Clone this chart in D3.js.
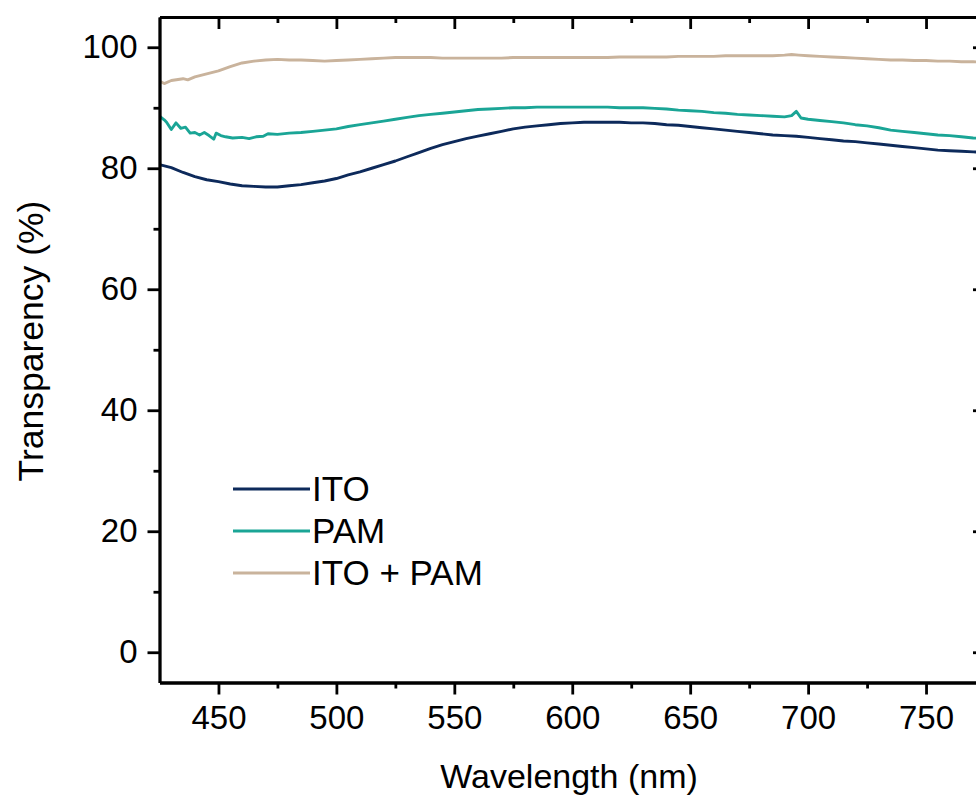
<!DOCTYPE html>
<html>
<head>
<meta charset="utf-8">
<script src="https://cdn.jsdelivr.net/npm/d3@7"></script>
<style>
  html, body { margin: 0; padding: 0; background: #fff; }
  svg { display: block; font-family: "Liberation Sans", Arial, sans-serif; }
</style>
</head>
<body>
<svg id="chart" width="976" height="795"></svg>
<script>
// Transmission spectra, wavelength in nm
const wavelengthITO = [425,430,435,440,445,450,455,460,465,470,475,480,485,490,495,500,505,510,515,520,525,530,535,540,545,550,555,560,565,570,575,580,585,590,595,600,605,610,615,620,625,630,635,640,645,650,655,660,665,670,675,680,685,690,695,700,705,710,715,720,725,730,735,740,745,750,755,760,765,770,775];
const transITO = [80.6,80.1,79.3,78.6,78.1,77.8,77.4,77.1,77.0,76.9,76.9,77.1,77.3,77.6,77.9,78.3,78.9,79.4,80.0,80.6,81.2,81.9,82.6,83.3,83.9,84.4,84.9,85.3,85.7,86.1,86.5,86.8,87.0,87.2,87.4,87.5,87.6,87.6,87.6,87.6,87.5,87.5,87.4,87.2,87.1,86.9,86.7,86.5,86.3,86.1,85.9,85.7,85.5,85.4,85.3,85.1,84.9,84.7,84.5,84.4,84.2,84.0,83.8,83.6,83.4,83.2,83.0,82.9,82.8,82.7,82.6];

const wavelengthPAM = [425,427,428,430,432,434,436,438,440,442,444,446,448,449,451,453,456,460,463,466,469,471,475,480,485,490,495,500,505,510,515,520,525,530,535,540,545,550,555,560,565,570,575,580,585,590,595,600,605,610,615,620,625,630,635,640,645,650,655,660,665,670,675,680,685,690,693,695,697,700,705,710,715,720,725,730,735,740,745,750,755,760,765,770,775];
const transPAM = [88.6,88.0,87.6,86.4,87.5,86.6,86.8,85.8,85.9,85.5,85.9,85.4,84.8,85.8,85.4,85.2,85.0,85.1,84.9,85.2,85.3,85.7,85.6,85.8,85.9,86.1,86.3,86.5,86.9,87.2,87.5,87.8,88.1,88.4,88.7,88.9,89.1,89.3,89.5,89.7,89.8,89.9,90.0,90.0,90.1,90.1,90.1,90.1,90.1,90.1,90.1,90.0,90.0,90.0,89.9,89.8,89.6,89.5,89.4,89.2,89.1,88.9,88.8,88.7,88.6,88.5,88.7,89.4,88.3,88.1,87.9,87.7,87.5,87.2,87.0,86.7,86.3,86.1,85.9,85.7,85.5,85.4,85.2,85.0,84.9];

const wavelengthBoth = [425,427,430,435,437,440,445,450,455,460,465,470,475,480,485,490,495,500,505,510,515,520,525,530,535,540,545,550,555,560,565,570,575,580,585,590,595,600,605,610,615,620,625,630,635,640,645,650,655,660,665,670,675,680,685,690,693,696,700,705,710,715,720,725,730,735,740,745,750,755,760,765,770,775];
const transBoth = [94.4,94.0,94.5,94.8,94.6,95.1,95.6,96.1,96.8,97.4,97.7,97.9,98.0,97.9,97.9,97.8,97.7,97.8,97.9,98.0,98.1,98.2,98.3,98.3,98.3,98.3,98.2,98.2,98.2,98.2,98.2,98.2,98.3,98.3,98.3,98.3,98.3,98.3,98.3,98.3,98.3,98.4,98.4,98.4,98.4,98.4,98.5,98.5,98.5,98.5,98.6,98.6,98.6,98.6,98.6,98.7,98.8,98.7,98.6,98.5,98.4,98.3,98.2,98.1,98.0,97.9,97.9,97.8,97.8,97.7,97.7,97.6,97.6,97.5];

const seriesNames = ["ITO", "PAM", "ITO + PAM"];
const seriesColors = ["#0d2a5b", "#1aa596", "#c9b39c"];

const xMajorTicks = [450,500,550,600,650,700,750];
const xMinorTicks = [475,525,575,625,675,725,775];
const yMajorTicks = [0,20,40,60,80,100];
const yMinorTicks = [10,30,50,70,90];

const xTitle = "Wavelength (nm)";
const yTitle = "Transparency (%)";

const series = [
  { name: seriesNames[0], color: seriesColors[0], x: wavelengthITO, y: transITO },
  { name: seriesNames[1], color: seriesColors[1], x: wavelengthPAM, y: transPAM },
  { name: seriesNames[2], color: seriesColors[2], x: wavelengthBoth, y: transBoth }
];

const svg = d3.select("#chart");
const plotLeft = 159.5, plotRight = 985, plotTop = 17, plotBottom = 682.5;

const x = d3.scaleLinear().domain([425, 775]).range([plotLeft, plotRight]);
const y = d3.scaleLinear().domain([-5, 105]).range([plotBottom, plotTop]);

svg.append("defs").append("clipPath").attr("id", "plotClip")
  .append("rect").attr("x", plotLeft).attr("y", plotTop)
  .attr("width", plotRight - plotLeft).attr("height", plotBottom - plotTop);

const line = d3.line().x(d => x(d[0])).y(d => y(d[1]));

const plot = svg.append("g").attr("clip-path", "url(#plotClip)");
series.forEach(s => {
  plot.append("path")
    .datum(s.x.map((w, i) => [w, s.y[i]]))
    .attr("fill", "none")
    .attr("stroke", s.color)
    .attr("stroke-width", 2.9)
    .attr("stroke-linejoin", "round")
    .attr("d", line);
});

const fontTick = 33;
const strokeW = 2.8;

function styleAxis(g) {
  g.selectAll("path, line").attr("stroke", "#000").attr("stroke-width", strokeW);
  g.selectAll("text").attr("fill", "#000").attr("font-size", fontTick)
    .attr("font-family", "Liberation Sans, Arial, sans-serif");
}

// bottom axis
svg.append("g").attr("transform", `translate(0,${plotBottom})`)
  .call(d3.axisBottom(x).tickValues(xMajorTicks).tickSize(12).tickSizeOuter(0).tickPadding(11).tickFormat(d3.format("d")))
  .call(styleAxis);
svg.append("g").attr("transform", `translate(0,${plotBottom})`)
  .call(d3.axisBottom(x).tickValues(xMinorTicks).tickSize(6).tickSizeOuter(0).tickFormat(""))
  .call(styleAxis);
// top axis, ticks inward
svg.append("g").attr("transform", `translate(0,${plotTop})`)
  .call(d3.axisTop(x).tickValues(xMajorTicks).tickSize(-12).tickSizeOuter(0).tickFormat(""))
  .call(styleAxis);
svg.append("g").attr("transform", `translate(0,${plotTop})`)
  .call(d3.axisTop(x).tickValues(xMinorTicks).tickSize(-6).tickSizeOuter(0).tickFormat(""))
  .call(styleAxis);
// left axis
svg.append("g").attr("transform", `translate(${plotLeft},0)`)
  .call(d3.axisLeft(y).tickValues(yMajorTicks).tickSize(12).tickSizeOuter(0).tickPadding(10).tickFormat(d3.format("d")))
  .call(styleAxis);
svg.append("g").attr("transform", `translate(${plotLeft},0)`)
  .call(d3.axisLeft(y).tickValues(yMinorTicks).tickSize(6).tickSizeOuter(0).tickFormat(""))
  .call(styleAxis);
// right axis, ticks inward
svg.append("g").attr("transform", `translate(${plotRight},0)`)
  .call(d3.axisRight(y).tickValues(yMajorTicks).tickSize(-12).tickSizeOuter(0).tickFormat(""))
  .call(styleAxis);
svg.append("g").attr("transform", `translate(${plotRight},0)`)
  .call(d3.axisRight(y).tickValues(yMinorTicks).tickSize(-6).tickSizeOuter(0).tickFormat(""))
  .call(styleAxis);

// axis titles
svg.append("text")
  .attr("x", 569).attr("y", 788)
  .attr("text-anchor", "middle").attr("font-size", 34).attr("fill", "#000")
  .text(xTitle);
svg.append("text")
  .attr("transform", "translate(43,341) rotate(-90)")
  .attr("text-anchor", "middle").attr("font-size", 35.5).attr("fill", "#000")
  .text(yTitle);

// legend
const legend = svg.append("g").attr("transform", "translate(233,489)");
series.forEach((s, i) => {
  const row = legend.append("g").attr("transform", `translate(0,${i * 42})`);
  row.append("line").attr("x1", 0).attr("x2", 77).attr("y1", 0).attr("y2", 0)
    .attr("stroke", s.color).attr("stroke-width", 3);
  row.append("text").attr("x", 79).attr("y", 12)
    .attr("font-size", 35).attr("fill", "#000").text(s.name);
});
</script>
</body>
</html>
